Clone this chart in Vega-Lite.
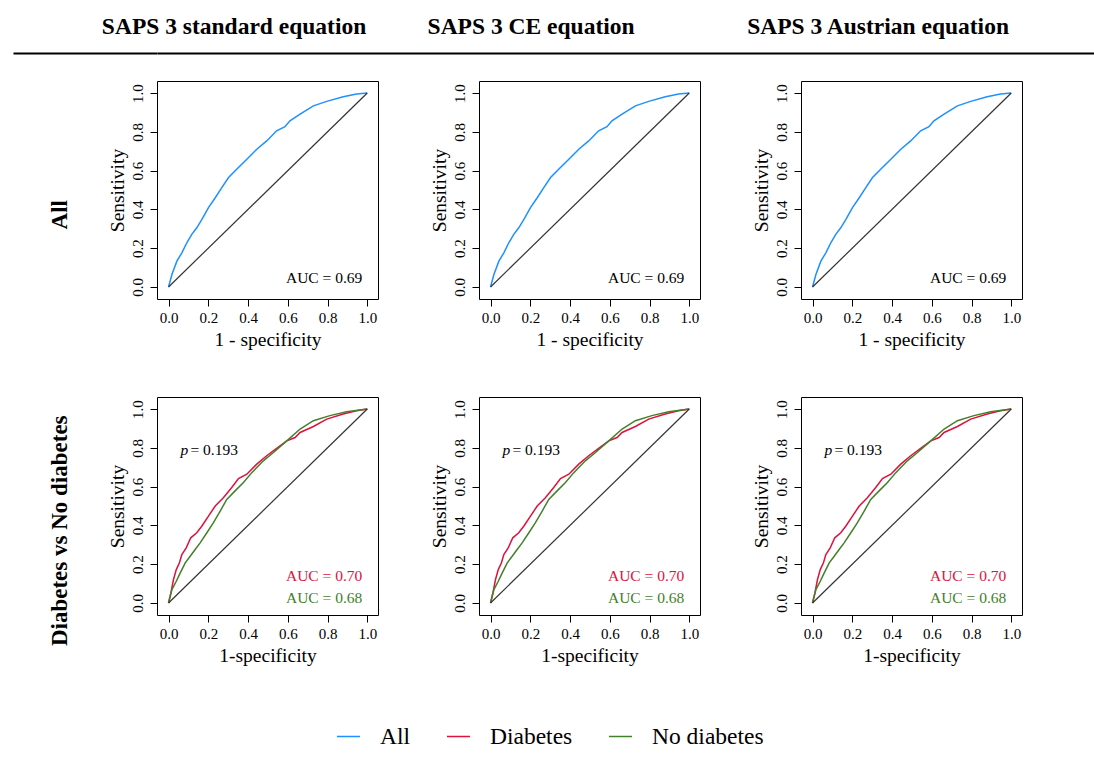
{
  "$schema": "https://vega.github.io/schema/vega-lite/v6.json",
  "background": "white",
  "padding": {"left": 12, "top": 0, "right": 0, "bottom": 0},
  "config": {
    "font": "Liberation Serif",
    "view": {"stroke": "black", "strokeWidth": 1},
    "axis": {"grid": false, "domain": false, "tickColor": "black", "tickSize": 7, "tickWidth": 1, "labelColor": "black", "labelFontSize": 15, "labelFont": "Liberation Serif", "titleFont": "Liberation Serif", "titleFontSize": 19.5, "titleFontWeight": "normal", "titleColor": "black"},
    "axisX": {"labelPadding": 4, "titlePadding": 5},
    "axisY": {"labelPadding": 5, "titlePadding": 3, "labelAngle": -90, "labelAlign": "center", "labelBaseline": "bottom"},
    "legend": {"orient": "none", "legendX": 179, "legendY": 724, "direction": "horizontal", "symbolType": "stroke", "symbolSize": 529, "symbolStrokeWidth": 1.5, "labelFontSize": 23.5, "labelFont": "Liberation Serif", "labelColor": "black", "labelOffset": 19, "columnPadding": 33, "padding": 0},
    "title": {"font": "Liberation Serif", "fontWeight": "bold", "fontSize": 23, "color": "black"}
  },
  "datasets": {
    "all": [
      {"g": "All", "x": 0, "y": 0},
      {"g": "All", "x": 0.017, "y": 0.064},
      {"g": "All", "x": 0.042, "y": 0.133},
      {"g": "All", "x": 0.067, "y": 0.176},
      {"g": "All", "x": 0.092, "y": 0.228},
      {"g": "All", "x": 0.117, "y": 0.271},
      {"g": "All", "x": 0.142, "y": 0.305},
      {"g": "All", "x": 0.168, "y": 0.348},
      {"g": "All", "x": 0.201, "y": 0.409},
      {"g": "All", "x": 0.235, "y": 0.46},
      {"g": "All", "x": 0.268, "y": 0.512},
      {"g": "All", "x": 0.302, "y": 0.564},
      {"g": "All", "x": 0.343, "y": 0.607},
      {"g": "All", "x": 0.394, "y": 0.659},
      {"g": "All", "x": 0.444, "y": 0.71},
      {"g": "All", "x": 0.494, "y": 0.753},
      {"g": "All", "x": 0.544, "y": 0.805},
      {"g": "All", "x": 0.586, "y": 0.826},
      {"g": "All", "x": 0.611, "y": 0.857},
      {"g": "All", "x": 0.662, "y": 0.891},
      {"g": "All", "x": 0.729, "y": 0.934},
      {"g": "All", "x": 0.796, "y": 0.957},
      {"g": "All", "x": 0.879, "y": 0.981},
      {"g": "All", "x": 0.946, "y": 0.995},
      {"g": "All", "x": 1, "y": 1}
    ],
    "dm": [
      {"g": "Diabetes", "x": 0, "y": 0},
      {"g": "Diabetes", "x": 0.012, "y": 0.052},
      {"g": "Diabetes", "x": 0.025, "y": 0.121},
      {"g": "Diabetes", "x": 0.039, "y": 0.172},
      {"g": "Diabetes", "x": 0.055, "y": 0.207},
      {"g": "Diabetes", "x": 0.067, "y": 0.25},
      {"g": "Diabetes", "x": 0.089, "y": 0.284},
      {"g": "Diabetes", "x": 0.112, "y": 0.336},
      {"g": "Diabetes", "x": 0.142, "y": 0.362},
      {"g": "Diabetes", "x": 0.168, "y": 0.397},
      {"g": "Diabetes", "x": 0.201, "y": 0.448},
      {"g": "Diabetes", "x": 0.235, "y": 0.5},
      {"g": "Diabetes", "x": 0.276, "y": 0.543},
      {"g": "Diabetes", "x": 0.318, "y": 0.595},
      {"g": "Diabetes", "x": 0.352, "y": 0.641},
      {"g": "Diabetes", "x": 0.394, "y": 0.664},
      {"g": "Diabetes", "x": 0.444, "y": 0.716},
      {"g": "Diabetes", "x": 0.494, "y": 0.759},
      {"g": "Diabetes", "x": 0.544, "y": 0.797},
      {"g": "Diabetes", "x": 0.595, "y": 0.836},
      {"g": "Diabetes", "x": 0.637, "y": 0.853},
      {"g": "Diabetes", "x": 0.662, "y": 0.879},
      {"g": "Diabetes", "x": 0.729, "y": 0.91},
      {"g": "Diabetes", "x": 0.796, "y": 0.948},
      {"g": "Diabetes", "x": 0.879, "y": 0.974},
      {"g": "Diabetes", "x": 0.946, "y": 0.991},
      {"g": "Diabetes", "x": 1, "y": 1},
      {"g": "No diabetes", "x": 0, "y": 0},
      {"g": "No diabetes", "x": 0.017, "y": 0.069},
      {"g": "No diabetes", "x": 0.039, "y": 0.112},
      {"g": "No diabetes", "x": 0.059, "y": 0.155},
      {"g": "No diabetes", "x": 0.084, "y": 0.207},
      {"g": "No diabetes", "x": 0.109, "y": 0.241},
      {"g": "No diabetes", "x": 0.134, "y": 0.276},
      {"g": "No diabetes", "x": 0.159, "y": 0.31},
      {"g": "No diabetes", "x": 0.193, "y": 0.362},
      {"g": "No diabetes", "x": 0.226, "y": 0.414},
      {"g": "No diabetes", "x": 0.26, "y": 0.474},
      {"g": "No diabetes", "x": 0.293, "y": 0.534},
      {"g": "No diabetes", "x": 0.335, "y": 0.578},
      {"g": "No diabetes", "x": 0.377, "y": 0.621},
      {"g": "No diabetes", "x": 0.419, "y": 0.672},
      {"g": "No diabetes", "x": 0.477, "y": 0.733},
      {"g": "No diabetes", "x": 0.528, "y": 0.776},
      {"g": "No diabetes", "x": 0.595, "y": 0.836},
      {"g": "No diabetes", "x": 0.662, "y": 0.897},
      {"g": "No diabetes", "x": 0.729, "y": 0.94},
      {"g": "No diabetes", "x": 0.812, "y": 0.966},
      {"g": "No diabetes", "x": 0.896, "y": 0.986},
      {"g": "No diabetes", "x": 1, "y": 1}
    ]
  },
  "spacing": 26,
  "resolve": {"scale": {"color": "shared"}, "legend": {"color": "shared"}},
  "vconcat": [
    {
      "width": 937,
      "height": 53,
      "view": {"stroke": null},
      "data": {"values": [{"eq": "SAPS 3 standard equation"}, {"eq": "SAPS 3 CE equation"}, {"eq": "SAPS 3 Austrian equation"}]},
      "encoding": {
        "x": {"field": "eq", "type": "nominal", "sort": null, "scale": {"type": "point", "domain": ["SAPS 3 standard equation", "SAPS 3 CE equation", "SAPS 3 Austrian equation"], "padding": 0.455, "align": 0.263}, "axis": {"domain": true, "domainColor": "black", "domainWidth": 1.8, "labels": false, "ticks": false, "title": null, "grid": false}},
        "y": {"datum": 0.5, "type": "quantitative", "scale": {"domain": [0, 1]}, "axis": {"values": [0], "tickSize": 144, "tickColor": "black", "tickWidth": 1.8, "labels": false, "domain": false, "title": null, "grid": false}},
        "text": {"field": "eq"}
      },
      "layer": [
        {"transform": [{"filter": "datum.eq != 'SAPS 3 CE equation'"}], "mark": {"type": "text", "fontWeight": "bold", "fontSize": 23.5, "baseline": "middle", "color": "black"}},
        {"transform": [{"filter": "datum.eq == 'SAPS 3 CE equation'"}], "mark": {"type": "text", "fontWeight": "bold", "fontSize": 23.5, "baseline": "middle", "color": "black", "dx": -25}}
      ]
    },
    {
      "spacing": 47,
      "resolve": {"scale": {"color": "shared"}, "legend": {"color": "shared"}},
      "vconcat": [
        {
          "title": {"text": ["", "All"], "lineHeight": 35, "orient": "left", "anchor": "middle", "offset": 35},
          "spacing": 49,
          "resolve": {"scale": {"color": "shared"}, "legend": {"color": "shared"}},
          "hconcat": [
            {
              "width": 221, "height": 218,
              "layer": [
                {"data": {"name": "all"}, "mark": {"type": "line", "strokeWidth": 1.5}, "encoding": {
                  "x": {"field": "x", "type": "quantitative", "scale": {"domain": [-0.058, 1.054], "nice": false, "zero": false}, "axis": {"values": [0, 0.2, 0.4, 0.6, 0.8, 1], "format": ".1f", "title": "1 - specificity"}},
                  "y": {"field": "y", "type": "quantitative", "scale": {"domain": [-0.062, 1.062], "nice": false, "zero": false}, "axis": {"values": [0, 0.2, 0.4, 0.6, 0.8, 1], "format": ".1f", "title": "Sensitivity"}},
                  "color": {"field": "g", "type": "nominal", "title": null, "scale": {"domain": ["All", "Diabetes", "No diabetes"], "range": ["#1E90FF", "#E0103F", "#43802A"]}}
                }},
                {"data": {"values": [{}]}, "mark": {"type": "rule", "color": "#333333", "strokeWidth": 1.2}, "encoding": {"x": {"datum": 0, "type": "quantitative"}, "y": {"datum": 0, "type": "quantitative"}, "x2": {"datum": 1}, "y2": {"datum": 1}}},
                {"data": {"values": [{"t": "AUC = 0.69"}]}, "mark": {"type": "text", "align": "right", "baseline": "middle", "fontSize": 15.5, "color": "black"}, "encoding": {"x": {"datum": 0.975, "type": "quantitative"}, "y": {"datum": 0.046, "type": "quantitative"}, "text": {"field": "t"}}}
              ]
            },
            {
              "width": 221, "height": 218,
              "layer": [
                {"data": {"name": "all"}, "mark": {"type": "line", "strokeWidth": 1.5}, "encoding": {
                  "x": {"field": "x", "type": "quantitative", "scale": {"domain": [-0.058, 1.054], "nice": false, "zero": false}, "axis": {"values": [0, 0.2, 0.4, 0.6, 0.8, 1], "format": ".1f", "title": "1 - specificity"}},
                  "y": {"field": "y", "type": "quantitative", "scale": {"domain": [-0.062, 1.062], "nice": false, "zero": false}, "axis": {"values": [0, 0.2, 0.4, 0.6, 0.8, 1], "format": ".1f", "title": "Sensitivity"}},
                  "color": {"field": "g", "type": "nominal", "title": null, "scale": {"domain": ["All", "Diabetes", "No diabetes"], "range": ["#1E90FF", "#E0103F", "#43802A"]}}
                }},
                {"data": {"values": [{}]}, "mark": {"type": "rule", "color": "#333333", "strokeWidth": 1.2}, "encoding": {"x": {"datum": 0, "type": "quantitative"}, "y": {"datum": 0, "type": "quantitative"}, "x2": {"datum": 1}, "y2": {"datum": 1}}},
                {"data": {"values": [{"t": "AUC = 0.69"}]}, "mark": {"type": "text", "align": "right", "baseline": "middle", "fontSize": 15.5, "color": "black"}, "encoding": {"x": {"datum": 0.975, "type": "quantitative"}, "y": {"datum": 0.046, "type": "quantitative"}, "text": {"field": "t"}}}
              ]
            },
            {
              "width": 221, "height": 218,
              "layer": [
                {"data": {"name": "all"}, "mark": {"type": "line", "strokeWidth": 1.5}, "encoding": {
                  "x": {"field": "x", "type": "quantitative", "scale": {"domain": [-0.058, 1.054], "nice": false, "zero": false}, "axis": {"values": [0, 0.2, 0.4, 0.6, 0.8, 1], "format": ".1f", "title": "1 - specificity"}},
                  "y": {"field": "y", "type": "quantitative", "scale": {"domain": [-0.062, 1.062], "nice": false, "zero": false}, "axis": {"values": [0, 0.2, 0.4, 0.6, 0.8, 1], "format": ".1f", "title": "Sensitivity"}},
                  "color": {"field": "g", "type": "nominal", "title": null, "scale": {"domain": ["All", "Diabetes", "No diabetes"], "range": ["#1E90FF", "#E0103F", "#43802A"]}}
                }},
                {"data": {"values": [{}]}, "mark": {"type": "rule", "color": "#333333", "strokeWidth": 1.2}, "encoding": {"x": {"datum": 0, "type": "quantitative"}, "y": {"datum": 0, "type": "quantitative"}, "x2": {"datum": 1}, "y2": {"datum": 1}}},
                {"data": {"values": [{"t": "AUC = 0.69"}]}, "mark": {"type": "text", "align": "right", "baseline": "middle", "fontSize": 15.5, "color": "black"}, "encoding": {"x": {"datum": 0.975, "type": "quantitative"}, "y": {"datum": 0.046, "type": "quantitative"}, "text": {"field": "t"}}}
              ]
            }
          ]
        },
        {
          "title": {"text": ["", "Diabetes vs No diabetes"], "lineHeight": 35, "orient": "left", "anchor": "middle", "offset": 35},
          "spacing": 49,
          "resolve": {"scale": {"color": "shared"}, "legend": {"color": "shared"}},
          "hconcat": [
            {
              "width": 221, "height": 218,
              "layer": [
                {"data": {"name": "dm"}, "mark": {"type": "line", "strokeWidth": 1.5}, "encoding": {
                  "x": {"field": "x", "type": "quantitative", "scale": {"domain": [-0.058, 1.054], "nice": false, "zero": false}, "axis": {"values": [0, 0.2, 0.4, 0.6, 0.8, 1], "format": ".1f", "title": "1-specificity"}},
                  "y": {"field": "y", "type": "quantitative", "scale": {"domain": [-0.062, 1.062], "nice": false, "zero": false}, "axis": {"values": [0, 0.2, 0.4, 0.6, 0.8, 1], "format": ".1f", "title": "Sensitivity"}},
                  "color": {"field": "g", "type": "nominal", "title": null, "scale": {"domain": ["All", "Diabetes", "No diabetes"], "range": ["#1E90FF", "#E0103F", "#43802A"]}}
                }},
                {"data": {"values": [{}]}, "mark": {"type": "rule", "color": "#333333", "strokeWidth": 1.2}, "encoding": {"x": {"datum": 0, "type": "quantitative"}, "y": {"datum": 0, "type": "quantitative"}, "x2": {"datum": 1}, "y2": {"datum": 1}}},
                {"data": {"values": [{"t": "AUC = 0.70"}]}, "mark": {"type": "text", "align": "right", "baseline": "middle", "fontSize": 15.5, "color": "#E0103F"}, "encoding": {"x": {"datum": 0.975, "type": "quantitative"}, "y": {"datum": 0.139, "type": "quantitative"}, "text": {"field": "t"}}},
                {"data": {"values": [{"t": "AUC = 0.68"}]}, "mark": {"type": "text", "align": "right", "baseline": "middle", "fontSize": 15.5, "color": "#43802A"}, "encoding": {"x": {"datum": 0.975, "type": "quantitative"}, "y": {"datum": 0.026, "type": "quantitative"}, "text": {"field": "t"}}},
                {"data": {"values": [{"t": "p"}]}, "mark": {"type": "text", "align": "left", "baseline": "middle", "fontSize": 15.5, "fontStyle": "italic", "color": "black"}, "encoding": {"x": {"datum": 0.06, "type": "quantitative"}, "y": {"datum": 0.79, "type": "quantitative"}, "text": {"field": "t"}}},
                {"data": {"values": [{"t": "= 0.193"}]}, "mark": {"type": "text", "align": "left", "baseline": "middle", "fontSize": 15.5, "color": "black"}, "encoding": {"x": {"datum": 0.11, "type": "quantitative"}, "y": {"datum": 0.79, "type": "quantitative"}, "text": {"field": "t"}}}
              ]
            },
            {
              "width": 221, "height": 218,
              "layer": [
                {"data": {"name": "dm"}, "mark": {"type": "line", "strokeWidth": 1.5}, "encoding": {
                  "x": {"field": "x", "type": "quantitative", "scale": {"domain": [-0.058, 1.054], "nice": false, "zero": false}, "axis": {"values": [0, 0.2, 0.4, 0.6, 0.8, 1], "format": ".1f", "title": "1-specificity"}},
                  "y": {"field": "y", "type": "quantitative", "scale": {"domain": [-0.062, 1.062], "nice": false, "zero": false}, "axis": {"values": [0, 0.2, 0.4, 0.6, 0.8, 1], "format": ".1f", "title": "Sensitivity"}},
                  "color": {"field": "g", "type": "nominal", "title": null, "scale": {"domain": ["All", "Diabetes", "No diabetes"], "range": ["#1E90FF", "#E0103F", "#43802A"]}}
                }},
                {"data": {"values": [{}]}, "mark": {"type": "rule", "color": "#333333", "strokeWidth": 1.2}, "encoding": {"x": {"datum": 0, "type": "quantitative"}, "y": {"datum": 0, "type": "quantitative"}, "x2": {"datum": 1}, "y2": {"datum": 1}}},
                {"data": {"values": [{"t": "AUC = 0.70"}]}, "mark": {"type": "text", "align": "right", "baseline": "middle", "fontSize": 15.5, "color": "#E0103F"}, "encoding": {"x": {"datum": 0.975, "type": "quantitative"}, "y": {"datum": 0.139, "type": "quantitative"}, "text": {"field": "t"}}},
                {"data": {"values": [{"t": "AUC = 0.68"}]}, "mark": {"type": "text", "align": "right", "baseline": "middle", "fontSize": 15.5, "color": "#43802A"}, "encoding": {"x": {"datum": 0.975, "type": "quantitative"}, "y": {"datum": 0.026, "type": "quantitative"}, "text": {"field": "t"}}},
                {"data": {"values": [{"t": "p"}]}, "mark": {"type": "text", "align": "left", "baseline": "middle", "fontSize": 15.5, "fontStyle": "italic", "color": "black"}, "encoding": {"x": {"datum": 0.06, "type": "quantitative"}, "y": {"datum": 0.79, "type": "quantitative"}, "text": {"field": "t"}}},
                {"data": {"values": [{"t": "= 0.193"}]}, "mark": {"type": "text", "align": "left", "baseline": "middle", "fontSize": 15.5, "color": "black"}, "encoding": {"x": {"datum": 0.11, "type": "quantitative"}, "y": {"datum": 0.79, "type": "quantitative"}, "text": {"field": "t"}}}
              ]
            },
            {
              "width": 221, "height": 218,
              "layer": [
                {"data": {"name": "dm"}, "mark": {"type": "line", "strokeWidth": 1.5}, "encoding": {
                  "x": {"field": "x", "type": "quantitative", "scale": {"domain": [-0.058, 1.054], "nice": false, "zero": false}, "axis": {"values": [0, 0.2, 0.4, 0.6, 0.8, 1], "format": ".1f", "title": "1-specificity"}},
                  "y": {"field": "y", "type": "quantitative", "scale": {"domain": [-0.062, 1.062], "nice": false, "zero": false}, "axis": {"values": [0, 0.2, 0.4, 0.6, 0.8, 1], "format": ".1f", "title": "Sensitivity"}},
                  "color": {"field": "g", "type": "nominal", "title": null, "scale": {"domain": ["All", "Diabetes", "No diabetes"], "range": ["#1E90FF", "#E0103F", "#43802A"]}}
                }},
                {"data": {"values": [{}]}, "mark": {"type": "rule", "color": "#333333", "strokeWidth": 1.2}, "encoding": {"x": {"datum": 0, "type": "quantitative"}, "y": {"datum": 0, "type": "quantitative"}, "x2": {"datum": 1}, "y2": {"datum": 1}}},
                {"data": {"values": [{"t": "AUC = 0.70"}]}, "mark": {"type": "text", "align": "right", "baseline": "middle", "fontSize": 15.5, "color": "#E0103F"}, "encoding": {"x": {"datum": 0.975, "type": "quantitative"}, "y": {"datum": 0.139, "type": "quantitative"}, "text": {"field": "t"}}},
                {"data": {"values": [{"t": "AUC = 0.68"}]}, "mark": {"type": "text", "align": "right", "baseline": "middle", "fontSize": 15.5, "color": "#43802A"}, "encoding": {"x": {"datum": 0.975, "type": "quantitative"}, "y": {"datum": 0.026, "type": "quantitative"}, "text": {"field": "t"}}},
                {"data": {"values": [{"t": "p"}]}, "mark": {"type": "text", "align": "left", "baseline": "middle", "fontSize": 15.5, "fontStyle": "italic", "color": "black"}, "encoding": {"x": {"datum": 0.06, "type": "quantitative"}, "y": {"datum": 0.79, "type": "quantitative"}, "text": {"field": "t"}}},
                {"data": {"values": [{"t": "= 0.193"}]}, "mark": {"type": "text", "align": "left", "baseline": "middle", "fontSize": 15.5, "color": "black"}, "encoding": {"x": {"datum": 0.11, "type": "quantitative"}, "y": {"datum": 0.79, "type": "quantitative"}, "text": {"field": "t"}}}
              ]
            }
          ]
        }
      ]
    }
  ]
}
